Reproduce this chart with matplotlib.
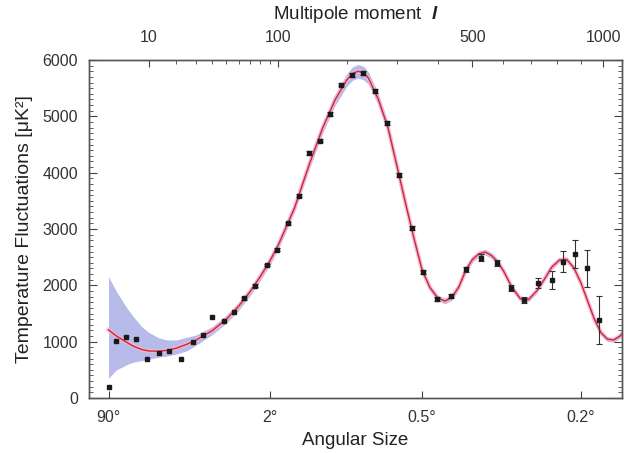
import numpy as np
import matplotlib.pyplot as plt
from matplotlib.ticker import FixedLocator, MultipleLocator, NullLocator

plt.rcParams['font.family'] = ['Liberation Sans', 'DejaVu Sans']
plt.rcParams['mathtext.fontset'] = 'custom'
plt.rcParams['mathtext.it'] = 'Liberation Sans:italic:bold'

# 理论曲线 (multipole l, D_l in uK^2)
curve_l = [2, 3, 4, 5, 6, 8, 10, 13, 16, 20, 25, 30, 40, 50, 60, 70, 80, 90, 100,
           120, 140, 160, 180, 200, 210, 220, 230, 240, 260, 280, 300, 320, 340, 360,
           380, 400, 420, 440, 460, 480, 500, 520, 540, 560, 580, 600, 630, 660, 690,
           720, 750, 780, 810, 840, 870, 900, 930, 960, 990, 1020, 1050, 1080, 1090]
curve_d = [1210, 1100, 1030, 970, 920, 860, 835, 830, 845, 885, 955, 1030, 1200, 1400,
           1630, 1880, 2150, 2420, 2720, 3380, 4150, 4800, 5300, 5650, 5760, 5800, 5770,
           5680, 5300, 4810, 4120, 3450, 2830, 2270, 1960, 1780, 1720, 1790, 1980, 2270,
           2460, 2560, 2590, 2530, 2420, 2260, 1960, 1760, 1750, 1900, 2110, 2330, 2450,
           2460, 2310, 2050, 1720, 1400, 1160, 1045, 1030, 1100, 1140]
# 宇宙方差带
band_hi = [2155, 1890, 1710, 1560, 1445, 1265, 1160, 1070, 1030, 1030, 1080, 1120, 1270,
           1470, 1700, 1950, 2220, 2490, 2790, 3450, 4230, 4890, 5400, 5760, 5880, 5920,
           5890, 5790, 5400, 4900, 4200, 3520, 2900, 2330, 2010, 1830, 1770, 1840, 2030,
           2320, 2510, 2610, 2640, 2580, 2470, 2300, 2000, 1800, 1790, 1940, 2150, 2370,
           2490, 2500, 2350, 2090, 1760, 1440, 1200, 1085, 1070, 1140, 1180]
band_lo = [350, 500, 555, 605, 635, 665, 690, 725, 745, 780, 840, 940, 1130, 1330, 1560,
           1810, 2080, 2350, 2650, 3310, 4070, 4710, 5200, 5540, 5640, 5680, 5650, 5570,
           5200, 4720, 4040, 3380, 2760, 2210, 1910, 1730, 1670, 1740, 1930, 2220, 2410,
           2510, 2540, 2480, 2370, 2220, 1920, 1720, 1710, 1860, 2070, 2290, 2410, 2420,
           2270, 2010, 1680, 1360, 1120, 1005, 990, 1060, 1100]

# WMAP 分档数据点
pt_l = [2, 3, 4.5, 6.5, 9.5, 13, 17, 22, 28, 34, 40, 48, 56, 65, 75, 87, 98, 111, 126,
        140, 155, 172, 190, 209, 229, 254, 278, 305, 334, 362, 399, 436, 480, 525, 577,
        626, 674, 726, 779, 826, 875, 929, 979]
pt_d = [190, 1018, 1089, 1042, 698, 794, 840, 698, 1000, 1119, 1433, 1373, 1527, 1771,
        1995, 2362, 2629, 3103, 3588, 4346, 4570, 5039, 5560, 5737, 5767, 5453, 4879,
        3961, 3014, 2244, 1759, 1812, 2286, 2492, 2392, 1948, 1741, 2048, 2096, 2421,
        2552, 2304, 1385]
pt_err = [0, 0, 0, 0, 0, 0, 0, 0, 0, 0, 0, 0, 0, 25, 25, 25, 25, 25, 25, 30, 30, 30, 30,
          30, 30, 30, 30, 35, 35, 35, 40, 40, 45, 60, 50, 50, 55, 90, 165, 190, 250, 330,
          420]

# 坐标轴刻度
top_ticks = [10, 100, 500, 1000]
top_minor = [20, 30, 40, 50, 60, 70, 80, 90, 200, 300, 400, 600, 700, 800, 900]
angle_deg = [90, 2, 0.5, 0.2]
angle_labels = ['90°', '2°', '0.5°', '0.2°']


def fwd(l):
    l = np.asarray(l, dtype=float)
    return np.sign(l) * np.abs(l) ** 0.4


def inv(v):
    v = np.asarray(v, dtype=float)
    return np.sign(v) * np.abs(v) ** 2.5


fig = plt.figure(figsize=(6.24, 4.53), dpi=100)
ax = fig.add_axes([89 / 624, 55 / 453, 533 / 624, 338 / 453])
ax.set_xscale('function', functions=(fwd, inv))
ax.set_xlim(0.48, 1090)
ax.set_ylim(0, 6000)

# 方差带、曲线
ax.fill_between(curve_l, band_lo, band_hi, color='#b7bbea', lw=0, zorder=1)
ax.plot(curve_l, curve_d, color='#f0b6d2', lw=3, alpha=0.85, zorder=2)
ax.plot(curve_l, curve_d, color='#d42431', lw=1.0, zorder=3)

# 数据点
err = np.array(pt_err)
has = err > 0
ax.errorbar(np.array(pt_l)[has], np.array(pt_d)[has], yerr=err[has], fmt='none',
            ecolor='#333333', elinewidth=0.8, capsize=2.5, capthick=0.8, zorder=4)
ax.plot(pt_l, pt_d, 's', ms=2.3, color='#1a1a1a', zorder=5)

# 下轴：角尺度
ax.xaxis.set_major_locator(FixedLocator([180 / a for a in angle_deg]))
ax.set_xticklabels(angle_labels)
ax.xaxis.set_minor_locator(NullLocator())
ax.yaxis.set_major_locator(MultipleLocator(1000))
ax.yaxis.set_minor_locator(MultipleLocator(100))
ax.tick_params(axis='both', which='both', direction='in', colors='#444444',
               labelsize=11.5, labelcolor='#333333')
ax.tick_params(axis='y', which='both', right=True)
ax.tick_params(axis='y', which='major', length=6, pad=8)
ax.tick_params(axis='y', which='minor', length=3)
ax.tick_params(axis='x', which='major', length=5, pad=9)
ax.set_xlabel('Angular Size', fontsize=13.5, color='#222222', labelpad=5)
ax.set_ylabel('Temperature Fluctuations [μK²]', fontsize=14, color='#222222', labelpad=7)

# 上轴：多极矩
ax2 = ax.twiny()
ax2.set_xscale('function', functions=(fwd, inv))
ax2.set_xlim(ax.get_xlim())
ax2.xaxis.set_major_locator(FixedLocator(top_ticks))
ax2.set_xticklabels([str(t) for t in top_ticks])
ax2.xaxis.set_minor_locator(FixedLocator(top_minor))
ax2.tick_params(axis='x', which='both', direction='in', colors='#444444',
                labelsize=11.5, labelcolor='#333333')
ax2.tick_params(axis='x', which='major', length=5, pad=11)
ax2.tick_params(axis='x', which='minor', length=3)
ax2.set_xlabel('Multipole moment  $l$', fontsize=13.5, color='#222222', labelpad=8)

for a in (ax, ax2):
    for s in a.spines.values():
        s.set_color('#555555')
        s.set_linewidth(1.0)

fig.savefig('out.png', dpi=100)
